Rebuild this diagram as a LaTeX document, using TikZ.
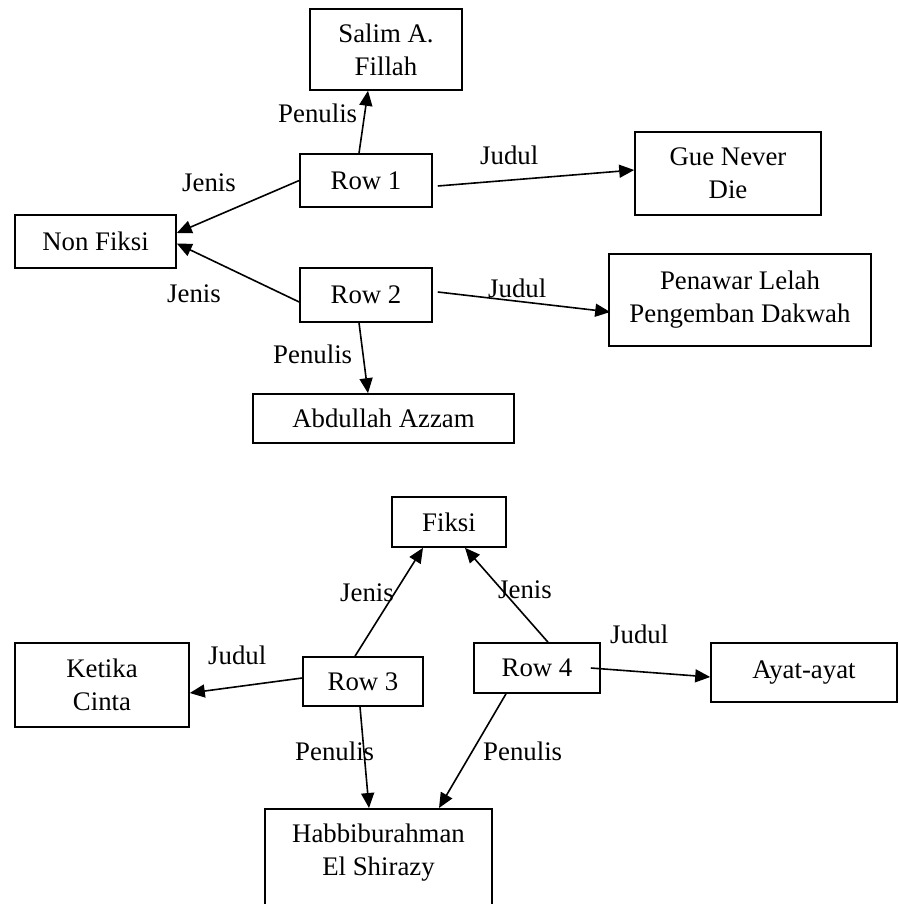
\documentclass[tikz,border=0pt]{standalone}
\usepackage{fontspec}
\setmainfont{Liberation Serif}
\usetikzlibrary{arrows.meta}
\tikzset{
  box/.style={draw, line width=1.6pt, inner sep=0pt, align=center},
  lbl/.style={inner sep=0pt, anchor=base west},
  link/.style={line width=1.6pt, -{Triangle[length=15pt,width=13pt]}},
}
\begin{document}
\begin{tikzpicture}[x=1pt,y=-1pt,font=\fontsize{26.8}{33}\selectfont]
\useasboundingbox (0,0) rectangle (898,904);
\clip (0,0) rectangle (898,904);
% nodes
\node[box, minimum width=152pt, minimum height=81pt] (salim) at (386,49.5) {Salim A.\\Fillah};
\node[box, minimum width=132pt, minimum height=53pt] (row1) at (366,180.5) {Row 1};
\node[box, minimum width=186pt, minimum height=83pt] (gue) at (728,173.5) {Gue Never\\Die};
\node[box, minimum width=161pt, minimum height=53pt] (nonfiksi) at (95.5,241.5) {Non Fiksi};
\node[box, minimum width=132pt, minimum height=54pt] (row2) at (366,295) {Row 2};
\node[box, minimum width=262pt, minimum height=92pt] (penawar) at (740,300) {Penawar Lelah\\Pengemban Dakwah};
\node[box, minimum width=261pt, minimum height=49pt] (abdullah) at (383.5,418.5) {Abdullah Azzam};
\node[box, minimum width=114pt, minimum height=50pt] (fiksi) at (449,522) {Fiksi};
\node[box, minimum width=174pt, minimum height=84pt] (ketika) at (102,685) {Ketika\\Cinta};
\node[box, minimum width=120pt, minimum height=49pt] (row3) at (363,681.5) {Row 3};
\node[box, minimum width=126pt, minimum height=50pt] (row4) at (537,668) {Row 4};
\node[box, minimum width=186pt, minimum height=59pt] (ayat) at (804,672.5) {Ayat-ayat};
\node[box, minimum width=227pt, minimum height=130pt, anchor=north] (habbibox) at (378.5,808) {};
\node[inner sep=0pt, align=center, anchor=north] (habbi) at (378.5,824) {Habbiburahman\\El Shirazy};
% connectors
\draw[link] ([xshift=-7pt]row1.north) -- ([xshift=-18pt]salim.south);
\draw[link] (row1.west) -- ([yshift=8.5pt]nonfiksi.east);
\draw[link] ([yshift=-7pt]row2.west) -- ([yshift=-2pt]nonfiksi.east);
\draw[link] ([xshift=-7pt]row2.south) -- ([xshift=-15.5pt]abdullah.north);
\draw[link] ([xshift=5pt,yshift=-5.5pt]row1.east) -- ([yshift=3.5pt]gue.west);
\draw[link] ([xshift=5pt,yshift=3pt]row2.east) -- ([xshift=2pt,yshift=-12pt]penawar.west);
\draw[link] ([xshift=-8pt]row3.north) -- ([xshift=-26pt]fiksi.south);
\draw[link] ([xshift=11pt]row4.north) -- ([xshift=16pt]fiksi.south);
\draw[link] ([yshift=3.5pt]row3.west) -- ([yshift=-8pt]ketika.east);
\draw[link] ([xshift=-3pt]row3.south) -- ([xshift=-9.5pt]habbibox.north);
\draw[link] ([xshift=-31pt]row4.south) -- ([xshift=60.5pt]habbibox.north);
\draw[link] ([xshift=-10pt]row4.east) -- ([yshift=-4.5pt]ayat.west);
% labels
\node[lbl] (l1) at (278,123) {Penulis};
\node[lbl] (l2) at (182,192) {Jenis};
\node[lbl] (l3) at (167,302) {Jenis};
\node[lbl] (l4) at (273,363) {Penulis};
\node[lbl] (l5) at (480,165) {Judul};
\node[lbl] (l6) at (488,297) {Judul};
\node[lbl] (l7) at (340,601) {Jenis};
\node[lbl] (l8) at (208,664) {Judul};
\node[lbl] (l9) at (295,760) {Penulis};
\node[lbl] (l10) at (498,598) {Jenis};
\node[lbl] (l11) at (610,643) {Judul};
\node[lbl] (l12) at (483,760) {Penulis};
\end{tikzpicture}
\end{document}
